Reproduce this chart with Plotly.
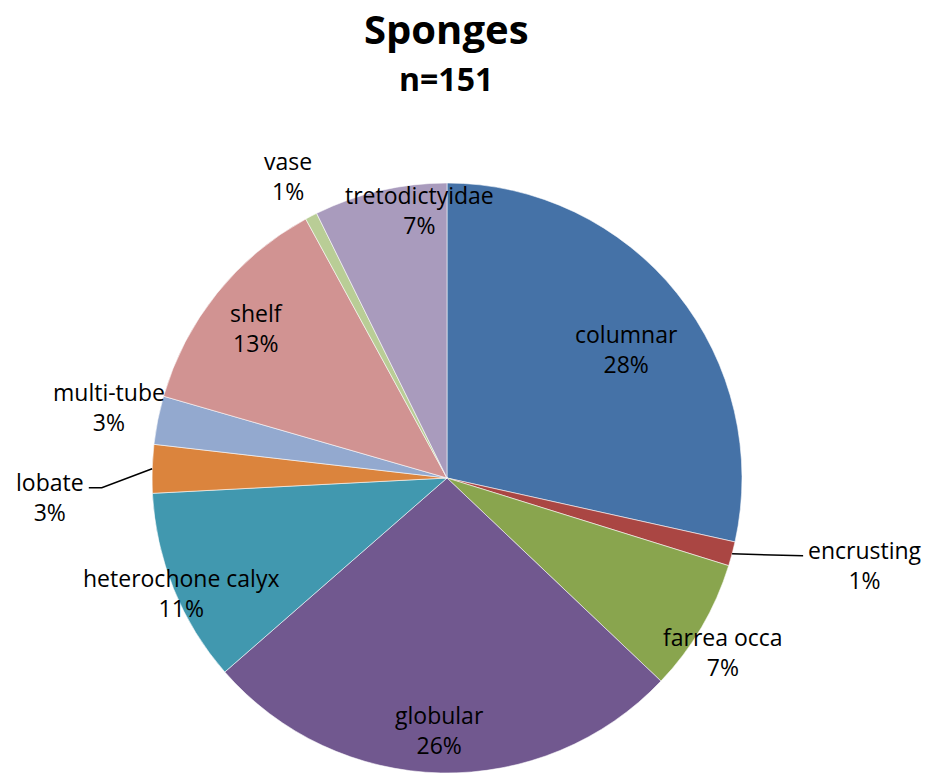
import math
import plotly.graph_objects as go

# Sponge growth forms (n = 151), clockwise from 12 o'clock
categories = ["columnar", "encrusting", "farrea occa", "globular",
              "heterochone calyx", "lobate", "multi-tube", "shelf",
              "vase", "tretodictyidae"]
counts = [43, 2, 11, 40, 16, 4, 4, 19, 1, 11]

colors = ["#4572A7", "#AA4643", "#89A54E", "#71588F", "#4198AF",
          "#DB843D", "#93A9CF", "#D19392", "#B9CD96", "#A99BBD"]

# label placement: distance from centre as a fraction of the radius,
# plus a small angular nudge (degrees) off the slice's mid-angle
label_radius = [0.75, 1.448, 1.106, 0.855, 0.98, 1.348, 1.172, 0.822, 1.157, 0.914]
label_nudge = [3.1, -3.1, 1.8, 0.4, -1.3, -4.5, 0.5, -0.5, -0.4, 7.2]
leader_slices = ["encrusting", "lobate"]

W, H = 927, 773
CX, CY, R = 447, 478, 295
TOP = CY - R            # top margin in px; pie fills the rest of the height
PLOT_H = H - TOP

FONT = "Open Sans"


def to_paper(px, py):
    return px / W, (H - py) / PLOT_H


def polar(theta_deg, r):
    t = math.radians(theta_deg)
    return CX + r * math.sin(t), CY - r * math.cos(t)


total = sum(counts)

fig = go.Figure(go.Pie(
    labels=categories,
    values=counts,
    sort=False,
    direction="clockwise",
    rotation=0,
    textinfo="none",
    hoverinfo="label+value+percent",
    marker=dict(colors=colors, line=dict(color="rgba(255,255,255,0.7)", width=0.8)),
    domain=dict(x=[(CX - R) / W, (CX + R) / W], y=[0, 1]),
    showlegend=False,
))

annotations = []
shapes = []
cum = 0
for name, v, rf, nudge in zip(categories, counts, label_radius, label_nudge):
    mid = (cum + v / 2) / total * 360
    cum += v
    pct = round(100 * v / total)
    lx, ly = polar(mid + nudge, rf * R)
    ax, ay = to_paper(lx, ly)
    annotations.append(dict(
        x=ax, y=ay, xref="paper", yref="paper",
        text=f"{name}<br>{pct}%", showarrow=False,
        xanchor="center", yanchor="middle",
        font=dict(family=FONT, size=23, color="#000000"),
    ))
    if name in leader_slices:
        ex, ey = polar(mid, R)
        if lx > CX:
            # runs right to the label's left edge
            end_x = lx - 62
            pts = [(ex, ey), (end_x, ey + 2)]
        else:
            end_x = lx + 52
            pts = [(ex, ey), (end_x, ey + 19), (end_x - 13, ey + 19)]
        path = "M " + " L ".join(
            f"{to_paper(px, py)[0]},{to_paper(px, py)[1]}" for px, py in pts)
        shapes.append(dict(type="path", path=path, xref="paper", yref="paper",
                           line=dict(color="#000000", width=1.5)))

# chart title and sample size
tx, ty = to_paper(446, 29)
annotations.append(dict(x=tx, y=ty, xref="paper", yref="paper", text="<b>Sponges</b>",
                        showarrow=False, xanchor="center", yanchor="middle",
                        font=dict(family=FONT, size=40, color="#000000")))
sx, sy = to_paper(446, 78)
annotations.append(dict(x=sx, y=sy, xref="paper", yref="paper", text="<b>n=151</b>",
                        showarrow=False, xanchor="center", yanchor="middle",
                        font=dict(family=FONT, size=32, color="#000000")))

fig.update_layout(
    width=W, height=H,
    margin=dict(l=0, r=0, t=TOP, b=0),
    paper_bgcolor="#FFFFFF",
    plot_bgcolor="#FFFFFF",
    annotations=annotations,
    shapes=shapes,
)

fig.write_html("out.html")
